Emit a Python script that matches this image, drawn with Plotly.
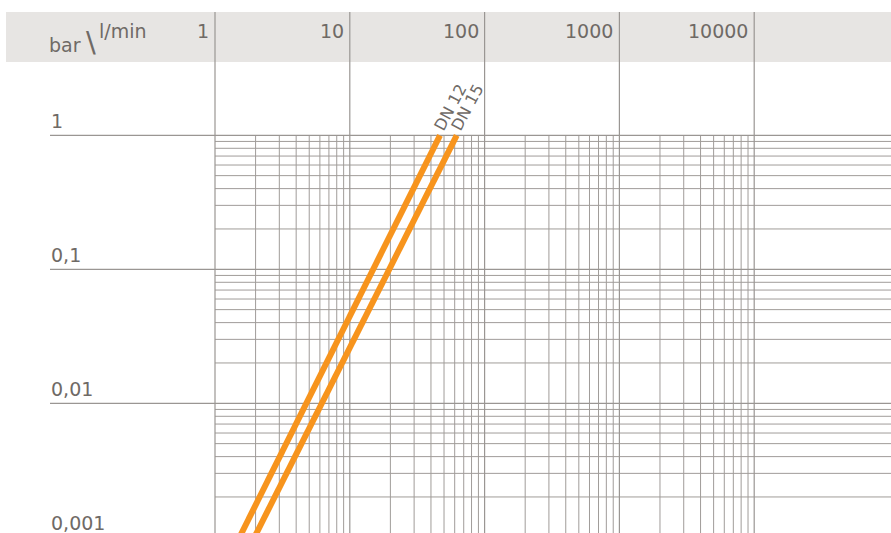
import math
import plotly.graph_objects as go

# ---------------- data ----------------
x_ticks = [1, 10, 100, 1000, 10000]
x_tick_labels = ["1", "10", "100", "1000", "10000"]
y_ticks = [1, 0.1, 0.01, 0.001]
y_tick_labels = ["1", "0,1", "0,01", "0,001"]
x_minor_decades = [1, 10, 100, 1000]
y_minor_decades = [0.001, 0.01, 0.1]
minor_steps = [2, 3, 4, 5, 6, 7, 8, 9]

series_names = ["DN 12", "DN 15"]
dn12_flow = [1.52, 46.7]      # l/min
dn12_dp = [0.001, 1.0]        # bar
dn15_flow = [1.96, 62.1]
dn15_dp = [0.001, 1.0]

# ---------------- geometry ----------------
W, H = 891, 533
PX_DEC_X, PX_DEC_Y = 134.8, 134.0
X0_PX, Y0_PX = 215, 135.3          # pixel of x=1 / y=1
X_RANGE = [-X0_PX / PX_DEC_X, (W - X0_PX) / PX_DEC_X]
Y_RANGE = [-(H - Y0_PX) / PX_DEC_Y, Y0_PX / PX_DEC_Y]
GRID = "#a09c99"
MAJOR = "#9a9693"
TEXT = "#6f6a66"
ORANGE = "#f7941d"
FONT = "DejaVu Sans"

def px(v):   # page pixel -> paper x
    return v / W

def py(v):   # page pixel -> paper y
    return 1 - v / H

X_LEFT_MAJOR = 10 ** ((50 - X0_PX) / PX_DEC_X)   # left end of major horizontal lines
X_RIGHT = 10 ** 6
Y_TOP_MAJOR = 10 ** ((Y0_PX - 12) / PX_DEC_Y)    # top of major vertical lines
Y_BOTTOM = 10 ** -4

fig = go.Figure()

def seg_trace(xs, ys, width=1.0, color=GRID):
    fig.add_trace(go.Scatter(x=xs, y=ys, mode="lines",
                             line=dict(color=color, width=width),
                             hoverinfo="skip", showlegend=False))

# minor vertical grid lines (only inside the chart body, below y=1)
vx, vy = [], []
for d in x_minor_decades:
    for s in minor_steps:
        vx += [d * s, d * s, None]
        vy += [y_ticks[0], Y_BOTTOM, None]
seg_trace(vx, vy)

# minor horizontal grid lines (from x=1 rightwards)
hx, hy = [], []
for d in y_minor_decades:
    for s in minor_steps:
        hx += [x_ticks[0], X_RIGHT, None]
        hy += [d * s, d * s, None]
seg_trace(hx, hy)

# major vertical lines through the header
mx, my = [], []
for v in x_ticks:
    mx += [v, v, None]
    my += [Y_TOP_MAJOR, Y_BOTTOM, None]
seg_trace(mx, my, 1.2, MAJOR)

# major horizontal lines extending under the labels
ax_, ay_ = [], []
for v in y_ticks:
    ax_ += [X_LEFT_MAJOR, X_RIGHT, None]
    ay_ += [v, v, None]
seg_trace(ax_, ay_, 1.2, MAJOR)

# the pressure-loss curves
for name, fx, fy in [(series_names[0], dn12_flow, dn12_dp),
                     (series_names[1], dn15_flow, dn15_dp)]:
    fig.add_trace(go.Scatter(x=fx, y=fy, mode="lines", name=name,
                             line=dict(color=ORANGE, width=6),
                             showlegend=False))

# header band
fig.add_shape(type="rect", xref="paper", yref="paper",
              x0=px(6), x1=1, y0=py(62), y1=py(12),
              fillcolor="#e7e5e3", line_width=0, layer="below")

annotations = []
# x tick labels in header
for v, lab in zip(x_ticks, x_tick_labels):
    annotations.append(dict(x=math.log10(v), xref="x", y=py(31), yref="paper",
                            text=lab, showarrow=False, xanchor="right", yanchor="middle",
                            xshift=-4, font=dict(family=FONT, size=19, color=TEXT)))
# y tick labels (lifted above their grid line)
LIFT = 14.5 / PX_DEC_Y
for v, lab in zip(y_ticks, y_tick_labels):
    annotations.append(dict(x=px(49), xref="paper", y=math.log10(v) + LIFT, yref="y",
                            text=lab, showarrow=False, xanchor="left", yanchor="middle",
                            font=dict(family=FONT, size=19, color=TEXT)))
# corner unit label
annotations.append(dict(x=px(47), xref="paper", y=py(45), yref="paper", text="bar",
                        showarrow=False, xanchor="left", yanchor="middle",
                        font=dict(family=FONT, size=19, color=TEXT)))
annotations.append(dict(x=px(91), xref="paper", y=py(42), yref="paper", text="\\",
                        showarrow=False, xanchor="center", yanchor="middle",
                        font=dict(family=FONT, size=29, color=TEXT)))
annotations.append(dict(x=px(97), xref="paper", y=py(31), yref="paper", text="l/min",
                        showarrow=False, xanchor="left", yanchor="middle",
                        font=dict(family=FONT, size=19, color=TEXT)))
# series labels
for name, cx, cy in [(series_names[0], 450, 107), (series_names[1], 467, 107)]:
    annotations.append(dict(x=px(cx), xref="paper", y=py(cy), yref="paper", text=name,
                            showarrow=False, xanchor="center", yanchor="middle",
                            textangle=-62, font=dict(family=FONT, size=16, color=TEXT)))

fig.update_layout(
    width=W, height=H,
    margin=dict(l=0, r=0, t=0, b=0),
    paper_bgcolor="white", plot_bgcolor="rgba(0,0,0,0)",
    xaxis=dict(type="log", range=X_RANGE, showgrid=False, zeroline=False,
               showticklabels=False, ticks="", fixedrange=True),
    yaxis=dict(type="log", range=Y_RANGE, showgrid=False, zeroline=False,
               showticklabels=False, ticks="", fixedrange=True),
    annotations=annotations,
    showlegend=False,
)

fig.write_html(
    "out.html",
    config={"displayModeBar": False},
    post_script="document.body.style.margin='0';document.body.style.overflow='hidden';",
)
